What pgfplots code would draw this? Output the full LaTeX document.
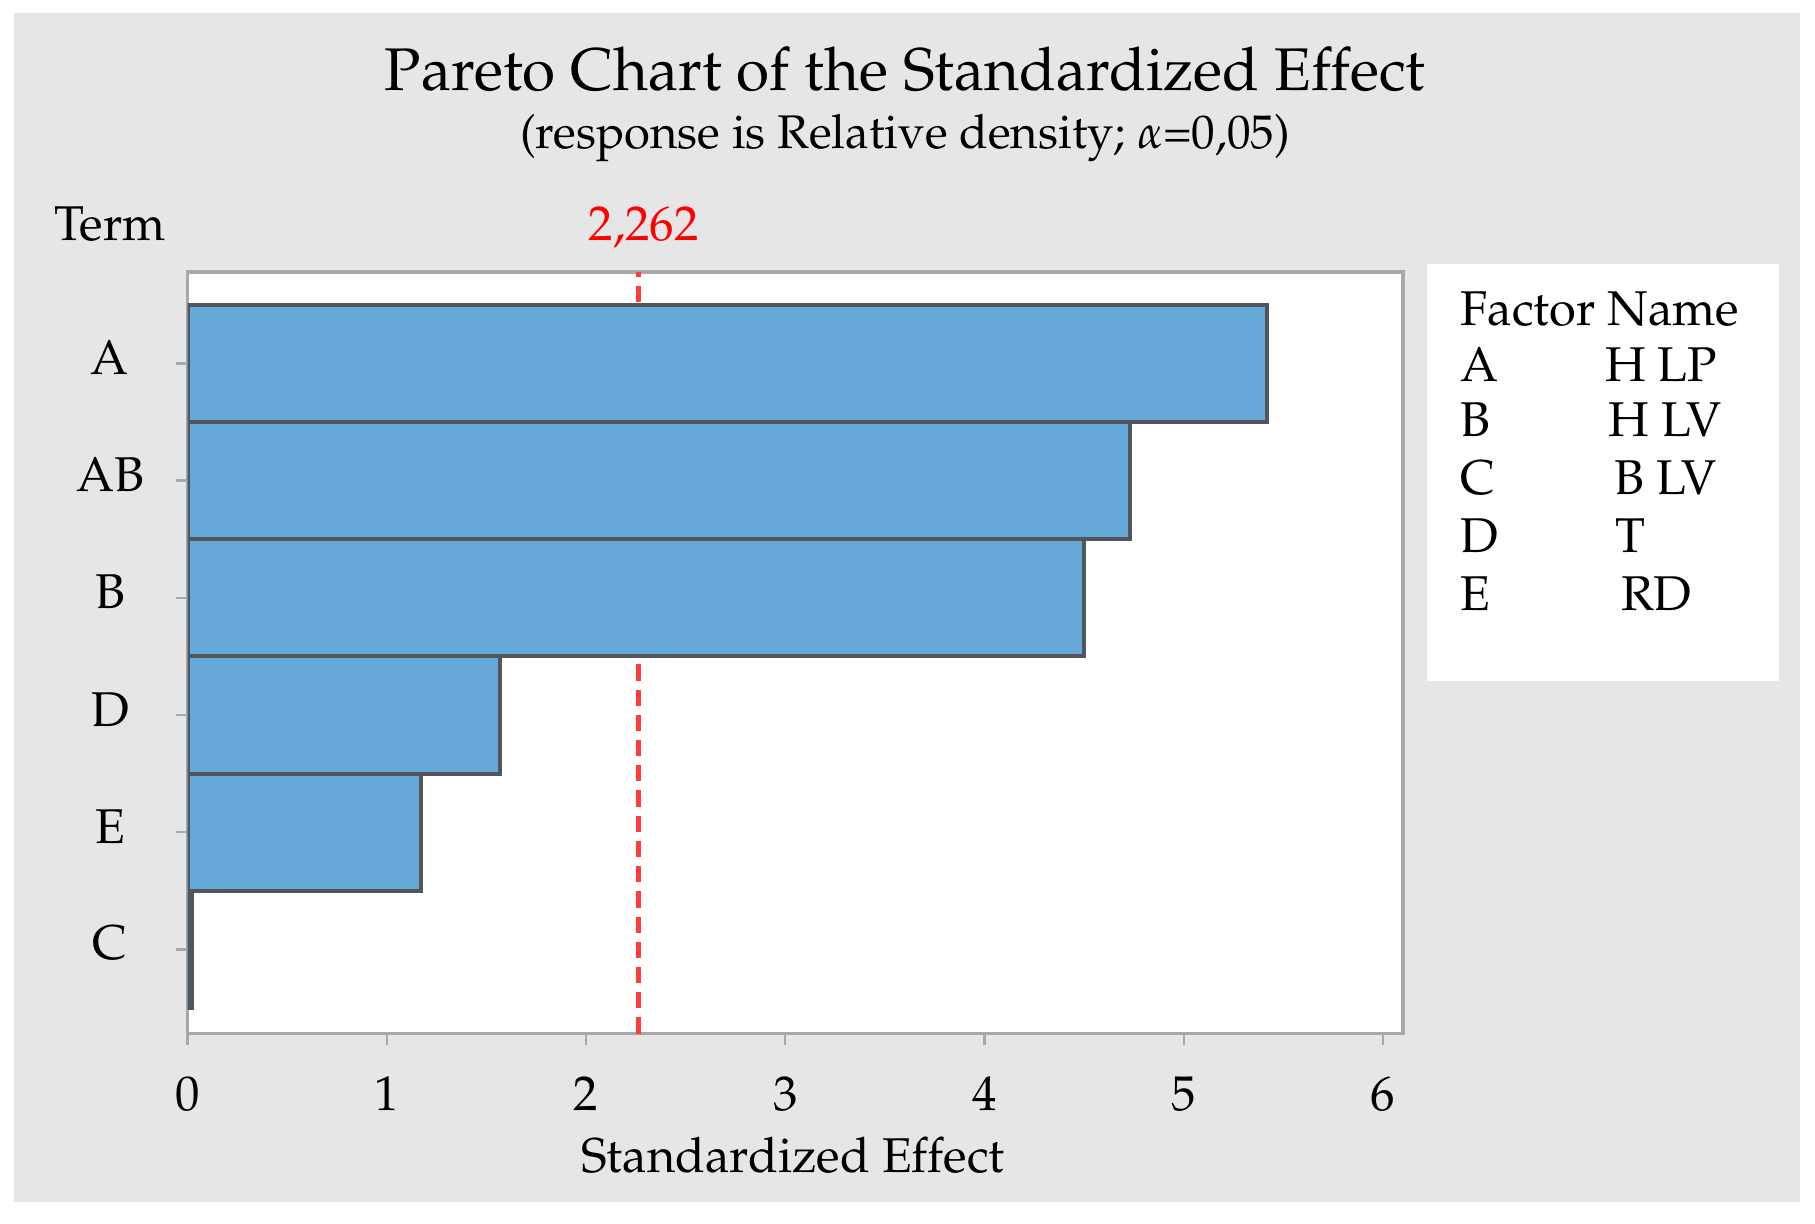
\documentclass[border=0pt]{standalone}
\usepackage[T1]{fontenc}
\usepackage{mathpazo}
\usepackage{pgfplots}
\pgfplotsset{compat=1.18}
\definecolor{bggray}{HTML}{E6E6E6}
\definecolor{barblue}{HTML}{66A7DA}
\definecolor{baredge}{HTML}{50565C}
\definecolor{framegray}{HTML}{A8A8A8}
\definecolor{dashred}{HTML}{FF3B3B}
\begin{document}
\begin{tikzpicture}
\fill[white] (0,0) rectangle (15.68,10.566);
\fill[bggray] (0.12,0.18) rectangle (15.55,10.45);
\fill[white] (12.33,4.686) rectangle (15.37,8.286);
\node[anchor=base, inner sep=0pt, font=\fontsize{14.8}{16}\selectfont] at (7.82,9.786) {Pareto Chart of the Standardized Effect};
\node[anchor=base, inner sep=0pt, font=\fontsize{11.6}{13}\selectfont] at (7.82,9.286) {(response is Relative density; $\alpha$=0,05)};
\node[anchor=base, font=\fontsize{12}{14}\selectfont] at (0.95,8.486) {Term};
\node[anchor=base, font=\fontsize{12}{14}\selectfont, text=red] at (5.56,8.486) {2,262};
\node[anchor=base, font=\fontsize{12}{14}\selectfont] at (6.85,0.436) {Standardized Effect};
\begin{scope}[every node/.style={anchor=base west, inner sep=0pt, font=\fontsize{12}{14}\selectfont}]
\node at (12.61,7.756) {Factor Name};
\node at (12.61,7.266) {A};
\node at (12.61,6.791) {B};
\node at (12.61,6.290) {C};
\node at (12.61,5.796) {D};
\node at (12.61,5.296) {E};
\node at (13.86,7.266) {H LP};
\node at (13.89,6.791) {H LV};
\node at (13.94,6.290) {B LV};
\node at (13.95,5.796) {T};
\node at (14.00,5.296) {RD};
\end{scope}
\begin{axis}[
  at={(1.62cm,1.636cm)}, anchor=south west,
  scale only axis, width=10.5cm, height=6.58cm,
  xmin=0, xmax=6.1, ymin=-0.72, ymax=5.78,
  xtick={0,1,2,3,4,5,6}, ytick={0,1,2,3,4,5},
  yticklabels={\textrm{C},\textrm{E},\textrm{D},\textrm{B},\textrm{AB},\textrm{A}},
  tick pos=left, tick align=outside, major tick length=0.1cm,
  axis line style={draw=framegray, line width=0.8pt},
  tick style={draw=framegray, line width=0.6pt},
  axis background/.style={fill=white},
  ticklabel style={font=\fontsize{12}{14}\selectfont},
  xticklabel style={anchor=base, yshift=-0.56cm},
  yticklabel style={anchor=center, xshift=-0.57cm, yshift=0.05cm},
]
\addplot[dashred, line width=1.2pt, dash pattern=on 4pt off 2.2pt] coordinates {(2.262,-0.72) (2.262,5.78)};
\addplot[xbar, bar width=1, fill=barblue, draw=baredge, line width=1pt]
  coordinates {(0.02,0) (1.17,1) (1.57,2) (4.50,3) (4.73,4) (5.42,5)};
\end{axis}
\end{tikzpicture}
\end{document}
